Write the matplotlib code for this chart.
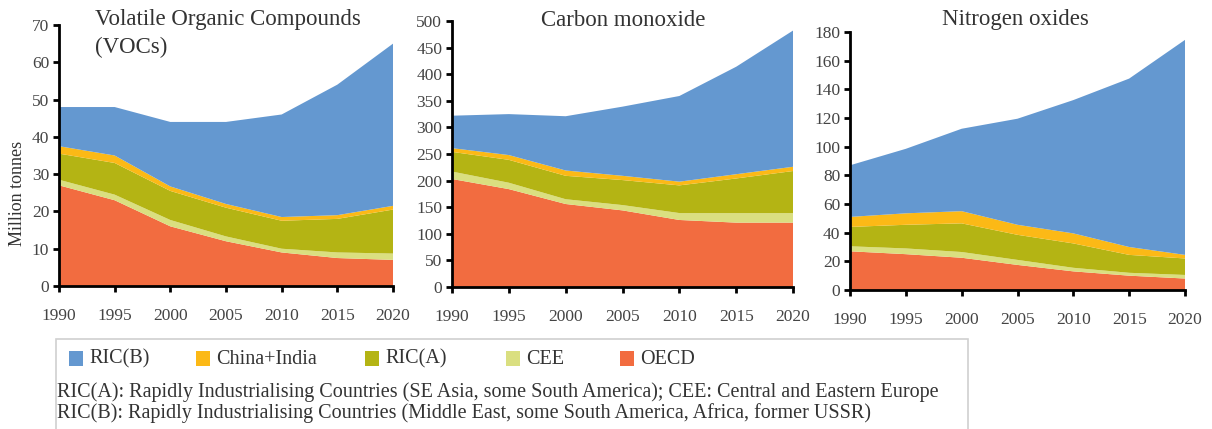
import matplotlib
matplotlib.use("Agg")
import matplotlib.pyplot as plt
from matplotlib.patches import Rectangle

plt.rcParams['font.family'] = ['Liberation Serif', 'DejaVu Serif']

years = [1990, 1995, 2000, 2005, 2010, 2015, 2020]
regions = ['OECD', 'CEE', 'RIC(A)', 'China+India', 'RIC(B)']
colors = ['#F26C40', '#DADF80', '#B4B414', '#FCB916', '#6498D0']

# emissions by region, million tonnes (stacked bottom to top)
voc_oecd = [27, 23, 16, 12, 9, 7.5, 7]
voc_cee = [1.5, 1.5, 1.7, 1.3, 1.0, 1.5, 1.7]
voc_rica = [7, 8.5, 7.8, 7.7, 7.5, 9, 11.8]
voc_chind = [2, 2, 1.2, 1, 1, 1, 1]
voc_ricb = [10.5, 13, 17.3, 22, 27.5, 35, 43.5]

co_oecd = [203, 184, 156, 144, 126, 121, 121]
co_cee = [14, 12, 9, 10, 13, 18, 18]
co_rica = [37, 43, 44, 47, 52, 65, 79]
co_chind = [7, 9, 10, 8, 7, 8, 8]
co_ricb = [61, 77, 102, 130, 161, 202, 256]

nox_oecd = [27, 25, 22.5, 17.5, 13, 10, 8]
nox_cee = [3.5, 4, 4, 3.5, 2.5, 2, 2.5]
nox_rica = [13.5, 16.5, 20, 17.5, 17, 12.5, 11.5]
nox_chind = [7, 8, 8.5, 7, 7, 5.5, 2.5]
nox_ricb = [36, 45, 57.5, 74, 93, 117.5, 150]

W, H = 1212, 429
fig = plt.figure(figsize=(W / 100, H / 100), dpi=100)


def px(x0, y0, x1, y1):
    # pixel box (left, top, right, bottom) -> figure fraction rect
    return [x0 / W, 1 - y1 / H, (x1 - x0) / W, (y1 - y0) / H]


panels = [
    (px(59, 25, 393, 286), [voc_oecd, voc_cee, voc_rica, voc_chind, voc_ricb], 70, 10),
    (px(452, 21, 793, 287), [co_oecd, co_cee, co_rica, co_chind, co_ricb], 500, 50),
    (px(850, 32, 1185, 290), [nox_oecd, nox_cee, nox_rica, nox_chind, nox_ricb], 180, 20),
]

for rect, series, ymax, step in panels:
    ax = fig.add_axes(rect)
    ax.stackplot(years, *series, colors=colors, linewidth=0)
    ax.set_xlim(1990, 2020)
    ax.set_ylim(0, ymax)
    ax.set_xticks(years)
    ax.set_yticks(range(0, ymax + 1, step))
    for s in ['top', 'right']:
        ax.spines[s].set_visible(False)
    for s in ['left', 'bottom']:
        ax.spines[s].set_linewidth(2)
        ax.spines[s].set_color('black')
    ax.tick_params(direction='out', length=4, width=2, labelsize=12.5,
                   labelcolor='#444444')
    ax.tick_params(axis='x', pad=12)
    ax.tick_params(axis='y', pad=3)
    ax.set_facecolor('none')

title_kw = dict(fontsize=16.5, color='#333333', va='center')
fig.text(95 / W, 1 - 19 / H, 'Volatile Organic Compounds', ha='left', **title_kw)
fig.text(95 / W, 1 - 47 / H, '(VOCs)', ha='left', **title_kw)
fig.text(623 / W, 1 - 20 / H, 'Carbon monoxide', ha='center', **title_kw)
fig.text(1015 / W, 1 - 20 / H, 'Nitrogen oxides', ha='center', **title_kw)
fig.text(18 / W, 1 - 193 / H, 'Million tonnes', fontsize=13, rotation=90,
         color='#333333', ha='center', va='center')

# legend frame
fig.patches.append(Rectangle((56 / W, -0.02), (968 - 56) / W, 1 - 339 / H + 0.02,
                             transform=fig.transFigure, fill=False,
                             edgecolor='#d0d0d0', linewidth=1.2))

legend_order = ['RIC(B)', 'China+India', 'RIC(A)', 'CEE', 'OECD']
legend_x = [69, 196, 365, 506, 620]
for name, x in zip(legend_order, legend_x):
    c = colors[regions.index(name)]
    fig.patches.append(Rectangle((x / W, 1 - 366 / H), 14 / W, 15 / H,
                                 transform=fig.transFigure, facecolor=c,
                                 edgecolor='none'))
    fig.text((x + 20) / W, 1 - 359 / H, name, fontsize=14.5, color='#333333',
             ha='left', va='center')

fig.text(57 / W, 1 - 392 / H,
         'RIC(A): Rapidly Industrialising Countries (SE Asia, some South America); '
         'CEE: Central and Eastern Europe',
         fontsize=14.5, color='#333333', ha='left', va='center')
fig.text(57 / W, 1 - 413 / H,
         'RIC(B): Rapidly Industrialising Countries (Middle East, some South America, '
         'Africa, former USSR)',
         fontsize=14.5, color='#333333', ha='left', va='center')

fig.savefig('out.png', dpi=100)
